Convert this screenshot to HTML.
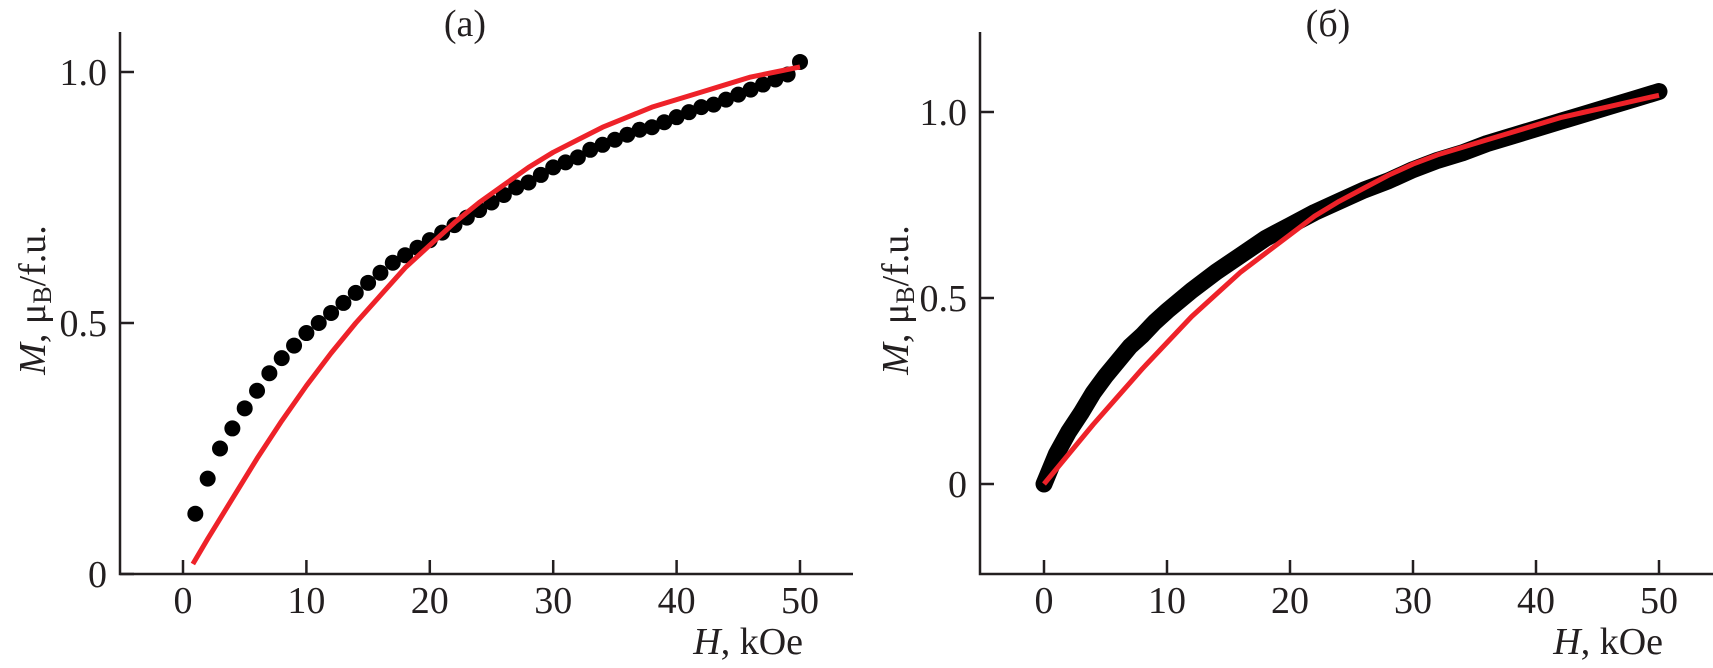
<!DOCTYPE html>
<html><head><meta charset="utf-8"><style>
html,body{margin:0;padding:0;background:#fff;}
svg{display:block;font-family:"Liberation Serif",serif;}
</style></head><body>
<svg id="chart" width="1713" height="668" viewBox="0 0 1713 668"></svg>
<script>
// Panel (a) data
const hA = [1,2,3,4,5,6,7,8,9,10,11,12,13,14,15,16,17,18,19,20,21,22,23,24,25,26,27,28,29,30,31,32,33,34,35,36,37,38,39,40,41,42,43,44,45,46,47,48,49,50];
const mA = [0.12,0.19,0.25,0.29,0.33,0.365,0.40,0.43,0.455,0.48,0.50,0.52,0.54,0.56,0.58,0.60,0.62,0.635,0.65,0.665,0.68,0.695,0.71,0.725,0.74,0.755,0.77,0.78,0.795,0.81,0.82,0.83,0.845,0.855,0.865,0.875,0.885,0.89,0.90,0.91,0.92,0.93,0.935,0.945,0.955,0.965,0.975,0.985,0.995,1.02];
const fitHA = [0.8,2,4,6,8,10,12,14,16,18,20,22,24,26,28,30,32,34,36,38,40,42,44,46,48,50];
const fitMA = [0.02,0.07,0.15,0.23,0.305,0.375,0.44,0.50,0.555,0.61,0.655,0.70,0.74,0.775,0.81,0.84,0.865,0.89,0.91,0.93,0.945,0.96,0.975,0.99,1.0,1.01];
// Panel (b) data
const hB = [0,1,2,3,4,5,6,7,8,9,10,12,14,16,18,20,22,24,26,28,30,32,34,36,38,40,42,44,46,48,50];
const mB = [0,0.08,0.14,0.19,0.245,0.29,0.33,0.37,0.40,0.435,0.465,0.52,0.57,0.615,0.66,0.695,0.73,0.76,0.79,0.815,0.845,0.87,0.89,0.915,0.935,0.955,0.975,0.995,1.015,1.035,1.055];
const fitHB = [0,2,4,6,8,10,12,14,16,18,20,22,24,26,28,30,32,34,36,38,40,42,44,46,48,50];
const fitMB = [0.0,0.08,0.16,0.235,0.31,0.38,0.45,0.51,0.57,0.62,0.67,0.72,0.76,0.795,0.83,0.86,0.885,0.905,0.925,0.945,0.965,0.985,1.0,1.015,1.03,1.045];
const xTicks = [0,10,20,30,40,50];
const yTicksA = [0,0.5,1.0];
const yTickLabelsA = ["0","0.5","1.0"];
const yTicksB = [0,0.5,1.0];
const yTickLabelsB = ["0","0.5","1.0"];

const svg = document.getElementById('chart');
const NS = 'http://www.w3.org/2000/svg';
function mk(tag, attrs, parent){const e=document.createElementNS(NS,tag);for(const k in attrs)e.setAttribute(k,attrs[k]);(parent||svg).appendChild(e);return e;}

function panel(cfg){
  const g = mk('g',{});
  
  
  const sx = v => cfg.x0 + v*cfg.kx;
  const sy = v => cfg.y0 - v*cfg.ky;
  const ax = mk('path',{d:`M${cfg.axL},${cfg.top} L${cfg.axL},${cfg.axY} L${cfg.axR},${cfg.axY}`,fill:'none',stroke:'#231f20','stroke-width':2.5},g);
  
  
  xTicks.forEach(t=>{
    const x=sx(t);
    mk('line',{x1:x,y1:cfg.axY,x2:x,y2:cfg.axY-14,stroke:'#231f20','stroke-width':2.5},g);
    const tx=mk('text',{x:x,y:613,'font-size':38,'text-anchor':'middle',fill:'#231f20'},g);
    tx.textContent=t;
    
    
  });
  cfg.yt.forEach((t,i)=>{
    const y=sy(t);
    mk('line',{x1:cfg.axL,y1:y,x2:cfg.axL+14,y2:y,stroke:'#231f20','stroke-width':2.5},g);
    const tx=mk('text',{x:cfg.axL-13,y:y+13,'font-size':38,'text-anchor':'end',fill:'#231f20'},g);
    tx.textContent=cfg.ytl[i];
    
    
  });
  cfg.hs.forEach((h,i)=>{
    const c=mk('circle',{cx:sx(h),cy:sy(cfg.ms[i]),r:cfg.r,fill:'#000'},g);
    
    
  });
  if(cfg.band){
    const b=mk('polyline',{points:cfg.hs.map((h,i)=>sx(h)+','+sy(cfg.ms[i])).join(' '),fill:'none',stroke:'#000','stroke-width':cfg.bw,'stroke-linejoin':'round','stroke-linecap':'round'},g);
    
    
  }
  const fl=mk('polyline',{points:cfg.fh.map((h,i)=>sx(h)+','+sy(cfg.fm[i])).join(' '),fill:'none',stroke:'#ee2229','stroke-width':5,'stroke-linejoin':'round'},g);
  
  
  const tt=mk('text',{x:cfg.titleX,y:36,'font-size':38,'text-anchor':'middle',fill:'#231f20'},g);
  tt.textContent=cfg.title;
  
  
  const xl=mk('text',{x:cfg.xlabR,y:654,'font-size':38,'text-anchor':'end',fill:'#231f20'},g);
  xl.innerHTML='<tspan font-style="italic">H</tspan>, kOe';
  
  
  const yl=mk('text',{x:0,y:0,'font-size':38,'text-anchor':'middle',fill:'#231f20',transform:`translate(${cfg.ylabX},${cfg.ylabY}) rotate(-90)`},g);
  yl.innerHTML='<tspan font-style="italic">M</tspan>, μ<tspan font-size="26" dy="6">B</tspan><tspan dy="-6">/f.u.</tspan>';
  
  
}

panel({name:'panel-a',x0:183,kx:12.34,y0:574,ky:502,axL:120,axR:853,axY:574,top:32,
  yt:yTicksA,ytl:yTickLabelsA,hs:hA,ms:mA,r:8,fh:fitHA,fm:fitMA,band:false,
  title:'(а)',titleX:465,xlabR:803,ylabX:45,ylabY:300});
panel({name:'panel-b',x0:1044,kx:12.3,y0:484,ky:372,axL:980,axR:1713,axY:574,top:32,
  yt:yTicksB,ytl:yTickLabelsB,hs:hB,ms:mB,r:7,bw:17,fh:fitHB,fm:fitMB,band:true,
  title:'(б)',titleX:1328,xlabR:1663,ylabX:908,ylabY:300});
</script>
</body></html>
